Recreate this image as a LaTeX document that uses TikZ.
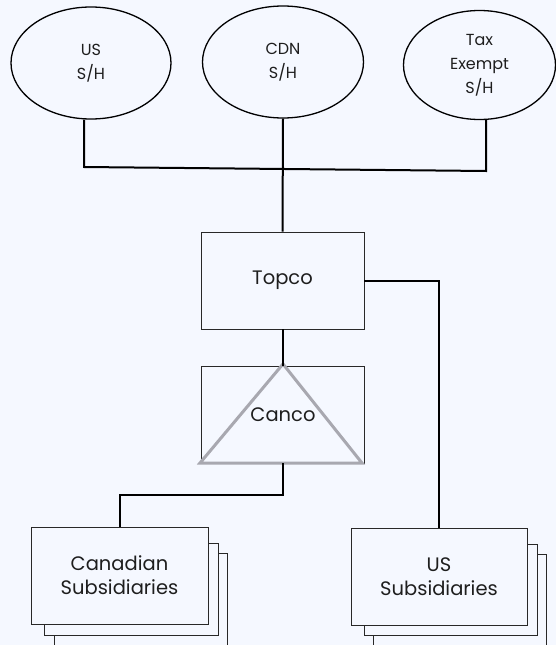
\documentclass[tikz,border=0pt]{standalone}
\usepackage{fontspec}
\setmainfont{Poppins}
\usetikzlibrary{shapes.geometric}
\definecolor{bg}{RGB}{245,248,255}
\definecolor{txt}{RGB}{30,30,30}
\definecolor{boxc}{RGB}{40,40,40}
\definecolor{tri}{RGB}{168,168,176}
\newcommand{\lowtext}[1]{\raisebox{-5pt}{\begin{tabular}{@{}c@{}}#1\end{tabular}}}
\tikzset{
  sh/.style={ellipse, draw=black, line width=1.3pt, minimum width=160pt, minimum height=112pt,
    inner sep=0pt, align=center, text=txt, font=\fontsize{16}{24}\selectfont},
  box/.style={rectangle, draw=boxc, line width=0.9pt, fill=bg, inner sep=0pt, align=center,
    text=txt, font=\fontsize{19.5}{24}\selectfont, minimum height=97pt},
  backbox/.style={draw=boxc, line width=0.9pt, fill=bg},
  conn/.style={line width=2pt, draw=black},
}
\begin{document}
\begin{tikzpicture}[x=1pt,y=-1pt]
\fill[bg] (0,0) rectangle (556,645);
\useasboundingbox (0,0) rectangle (556,645);
% shareholders
\node[sh] (us) at (91,63) {\lowtext{US\\S/H}};
\node[sh, minimum width=161pt] (cdn) at (283,62) {\lowtext{CDN\\S/H}};
\node[sh, minimum width=152pt, minimum height=109pt] (tax) at (479.5,65) {\lowtext{Tax\\Exempt\\S/H}};
% companies
\node[box, minimum width=163pt] (topco) at (282.5,280.5) {Topco};
\node[box, minimum width=163pt] (canco) at (282.5,414.5) {};
\draw[tri, line width=3pt] (283,364) -- (200,463) -- (362,463) -- cycle;
\node[text=txt, font=\fontsize{19.5}{24}\selectfont] (cancolabel) at (283,415) {Canco};
% subsidiaries stacks
\draw[backbox] (54,553) rectangle (227,645);
\draw[backbox] (44,543) rectangle (218,635);
\node[box, minimum width=177pt] (cansub) at (119.5,575.5) {Canadian\\Subsidiaries};
\draw[backbox] (373,554) rectangle (546,646);
\draw[backbox] (364,544) rectangle (537,635);
\node[box, minimum width=176pt] (ussub) at (439,576.5) {US\\Subsidiaries};
% connectors
\coordinate (jl) at (84,167);
\coordinate (jr) at (486,171);
\draw[conn] (us.south -| jl) -- (jl) -- (jr) -- (tax.south -| jr);
\draw[conn] (cdn.south) -- (topco.north);
\draw[conn] (topco.south) -- (canco.north);
\draw[conn] (canco.south) -- ++(0,32) -| (cansub.north);
\draw[conn] (topco.east) -| (ussub.north);
\end{tikzpicture}
\end{document}
